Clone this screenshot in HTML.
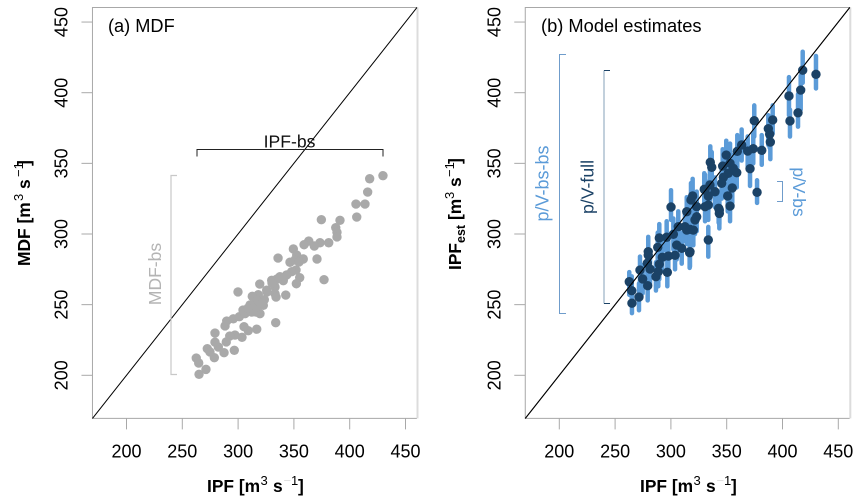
<!DOCTYPE html>
<html lang="en">
<head>
<meta charset="utf-8">
<title>MDF and model estimates versus IPF</title>
<style>
html,body{margin:0;padding:0;background:#fff;width:861px;height:504px;overflow:hidden}
svg{display:block;font-family:"Liberation Sans",sans-serif}
</style>
</head>
<body>
<svg id="chart" width="861" height="504" viewBox="0 0 861 504" xmlns="http://www.w3.org/2000/svg"></svg>
<script>
const tickValues = [200, 250, 300, 350, 400, 450];
const axisLimits = [169.5, 460.3];

const mdfIpf = [429.8,417.9,416.1,405.6,413.7,406.3,374.6,391.3,387.5,388.6,388.6,381.2,373.4,368.3,363.3,359.1,349.5,352.5,358.4,370.7,335.8,346.5,351,354.6,351.9,348,343.5,337.5,340.5,334.9,330.1,355.2,352.2,377,319.4,299.9,342.7,333.7,316.7,309.1,305.3,303.5,297.2,292.5,289.4,296.6,287.4,282.3,279.3,279.3,278.7,272.4,274.8,262.5,264.7,271.2,265,288.3,289.8,295.7,301.1,306.2,309.1,312.2,316,319.6,316.7,322.6,323.5,318.1,312.7,316.7,325.6,333.1,333.1,334,321.4,310.7,304.4,308.9,325.9,330.4];
const mdfValues = [341.3,339.1,329.7,321.2,321.2,312,310.1,309.7,304.5,301.2,297.9,293.8,293.8,291.5,295,292.4,289.4,285.1,282.3,282.3,283,280,281.6,280.2,274.5,273.3,271,269.8,267,268.2,267.2,269.1,264.8,267.7,264.6,259,256.8,237.2,232.6,231.6,234.4,226.9,228.5,227.8,223.6,217.7,216,220,223.4,229.9,212.5,218.8,216.5,212.2,208.7,204.2,200.7,234.9,238.4,240,241.5,243.6,246,244.8,244.8,243.6,248.3,249.5,253.5,257,255.9,253,260.2,262.5,257.7,255.4,251,249.8,246.2,247.6,259,265.3];

const estIpf = [430,418.1,416.3,405.8,413.9,406.7,391.2,374.7,387.3,388.5,389.1,381.4,373.8,368.8,363.4,359.5,349.6,335.3,336.6,346.4,353,359,370.9,377.2,355,350.9,353,342.8,355.9,351.4,347,345.5,339.5,329.9,335,333.5,319.5,318,300.1,323.1,333.5,314.2,323.1,321.6,343.4,343.4,333.5,330.6,289.6,296.2,302.2,306.6,312.6,320.1,314.2,305.2,309.7,317.1,288.2,279.7,262.7,264.9,271.4,265.1,279.2,274.7,272.3,278.9,279.7,281.3,289.6,286.6,288.7,296.8,292.3,297.7,303.7,316.8,317.1,330.6];
const estValues = [413,415.9,401.9,397.7,385.8,380,380.7,380.2,374.5,370.6,365.1,359.2,360.4,358.7,363,358.5,355.9,350.7,347.2,348.1,350,343.4,346.2,329.5,332.6,326.9,319.8,318.2,346.5,343,340.1,335.9,329.9,331.6,334.7,326.9,326.9,324.1,319.1,319.3,320.5,315.8,312.2,310,317,314.6,295.8,319.3,297.2,297.7,299.8,305.2,305.2,302.8,302.8,292.2,289.9,287.5,290.6,287.5,266.2,259.9,255.4,251,263.4,268.2,274.5,279.3,285.1,275.2,278.6,269.8,273.3,272.9,283.5,284.4,284.9,286.8,303.3,331.1];
const estLow = [403,407,388,384,376,369,371,369,363,361,353,349,350,348,352,347,346,339,337,338,340,333,334,322,322,316,309,308,336,332,330,325,319,321,324,316,317,314,310,309,310,306,302,300,307,304,284,309,287,288,289,294,295,292,293,282,279,277,280,277,257,249,246,244,253,258,264,269,275,265,268,260,263,263,274,274,275,276,293,321];
const estHigh = [426,429,412,411,399,388,391,391,384,380,376,370,371,369,374,370,366,362,358,360,364,355,358,338,344,337,330,330,356,354,351,347,340,343,346,337,339,336,331,330,333,326,323,320,328,325,305,331,307,309,311,316,316,314,314,303,301,298,301,298,273,270,265,262,273,278,284,289,296,286,289,280,284,283,295,295,295,297,314,342];

const NS = 'http://www.w3.org/2000/svg';
const chart = document.getElementById('chart');
const xLeft = v => 126.5 + (v - 200) * 1.116;
const xRight = v => 559.3 + (v - 200) * 1.116;
const yScale = v => 375.3 - (v - 200) * 1.413;

function mk(parent, tag, attrs, text) {
  const el = document.createElementNS(NS, tag);
  for (const k in attrs) el.setAttribute(k, attrs[k]);
  if (text !== undefined) el.textContent = text;
  parent.appendChild(el);
  return el;
}

function drawAxes(panel, xs) {
  const x0 = xs(axisLimits[0]), x1 = xs(axisLimits[1]);
  const y0 = yScale(axisLimits[0]), y1 = yScale(axisLimits[1]);
  const frame = mk(panel, 'path', {d: `M${x1} ${y1}H${x0}V${y0}H${x1}`, fill: 'none', stroke: '#a8a8a8', 'stroke-width': 1});
  
  
  const edge = mk(panel, 'line', {x1: x1 + 0.5, x2: x1 + 0.5, y1: y1, y2: y0, stroke: '#dcdcdc', 'stroke-width': 2});
  
  
  tickValues.forEach(t => {
    const xt = mk(panel, 'line', {x1: xs(t), x2: xs(t), y1: y0, y2: y0 + 11, stroke: '#a8a8a8', 'stroke-width': 1});
    
    
    const xl = mk(panel, 'text', {x: xs(t), y: 457.5, 'text-anchor': 'middle', 'font-size': 18, fill: '#000'}, String(t));
    
    
    const yt = mk(panel, 'line', {x1: x0 - 11, x2: x0, y1: yScale(t), y2: yScale(t), stroke: '#a8a8a8', 'stroke-width': 1});
    
    
    const yl = mk(panel, 'text', {transform: `translate(${x0 - 25},${yScale(t)}) rotate(-90)`, 'text-anchor': 'middle', 'font-size': 18, fill: '#000'}, String(t));
    
    
  });
  const ref = mk(panel, 'line', {x1: x0, y1: y0, x2: x1, y2: y1, stroke: '#000', 'stroke-width': 1});
  
  
}

function xTitle(panel, left) {
  const g = mk(panel, 'text', {y: 492, 'font-size': 17.4, 'font-weight': 'bold', fill: '#000'});
  
  
  mk(g, 'tspan', {x: left}, 'IPF [m');
  mk(g, 'tspan', {x: left + 53.5, y: 485, 'font-size': 13, 'font-weight': 'normal'}, '3');
  mk(g, 'tspan', {x: left + 66, y: 492}, 's');
  mk(g, 'tspan', {x: left + 76.5, y: 485, 'font-size': 13, 'font-weight': 'normal', fill: '#dddddd'}, '\u2212');
  mk(g, 'tspan', {x: left + 84, y: 485, 'font-size': 13, 'font-weight': 'normal'}, '1');
  mk(g, 'tspan', {x: left + 91, y: 492}, ']');
}

const panelA = mk(chart, 'g', {});


drawAxes(panelA, xLeft);
mdfIpf.forEach((v, i) => {
  const c = mk(panelA, 'circle', {cx: xLeft(v), cy: yScale(mdfValues[i]), r: 4.7, fill: '#a9a9a9'});
  
  
});

const panelB = mk(chart, 'g', {});


drawAxes(panelB, xRight);
estIpf.forEach((v, i) => {
  const b = mk(panelB, 'line', {x1: xRight(v), x2: xRight(v), y1: yScale(estLow[i]), y2: yScale(estHigh[i]), stroke: '#5b9bd8', 'stroke-width': 4.5, 'stroke-linecap': 'round'});
  
  
});
estIpf.forEach((v, i) => {
  const c = mk(panelB, 'circle', {cx: xRight(v), cy: yScale(estValues[i]), r: 4.7, fill: '#1b4266'});
  
  
});
const diagTop = mk(panelB, 'line', {x1: xRight(axisLimits[0]), y1: yScale(axisLimits[0]), x2: xRight(axisLimits[1]), y2: yScale(axisLimits[1]), stroke: '#000', 'stroke-width': 1});



xTitle(panelA, 207);
xTitle(panelB, 640);

const yTitleA = mk(panelA, 'text', {transform: 'translate(30,266) rotate(-90)', 'font-size': 17.4, 'font-weight': 'bold', fill: '#000'});


mk(yTitleA, 'tspan', {x: 0, y: 0}, 'MDF [m');
mk(yTitleA, 'tspan', {x: 65, y: -7, 'font-size': 13, 'font-weight': 'normal'}, '3');
mk(yTitleA, 'tspan', {x: 77, y: 0}, 's');
mk(yTitleA, 'tspan', {x: 89, y: -7, 'font-size': 13, 'font-weight': 'normal'}, '\u22121');
mk(yTitleA, 'tspan', {x: 100, y: 0}, ']');

const yTitleB = mk(panelB, 'text', {transform: 'translate(461,270) rotate(-90)', 'font-size': 17.4, 'font-weight': 'bold', fill: '#000'});


mk(yTitleB, 'tspan', {x: 0, y: 0}, 'IPF');
mk(yTitleB, 'tspan', {x: 27, y: 4, 'font-size': 12.5}, 'est');
mk(yTitleB, 'tspan', {x: 50, y: 0}, '[m');
mk(yTitleB, 'tspan', {x: 71, y: -7, 'font-size': 13, 'font-weight': 'normal'}, '3');
mk(yTitleB, 'tspan', {x: 83, y: 0}, 's');
mk(yTitleB, 'tspan', {x: 93, y: -7, 'font-size': 13, 'font-weight': 'normal'}, '\u22121');
mk(yTitleB, 'tspan', {x: 106, y: 0}, ']');

const titleA = mk(panelA, 'text', {x: 108, y: 32, 'font-size': 18.2, fill: '#000'}, '(a) MDF');


const titleB = mk(panelB, 'text', {x: 541, y: 32, 'font-size': 18.3, fill: '#000'}, '(b) Model estimates');



const ipfBracket = mk(panelA, 'path', {d: 'M197 156.5V149.5H383V156.5', fill: 'none', stroke: '#222', 'stroke-width': 1});


const ipfLabel = mk(panelA, 'text', {x: 289.5, y: 147.5, 'text-anchor': 'middle', 'font-size': 17.6, fill: '#111'}, 'IPF-bs');


const mdfBracket = mk(panelA, 'path', {d: 'M177 175.5H171V374.5H177', fill: 'none', stroke: '#c8c8c8', 'stroke-width': 1.2});


const mdfLabel = mk(panelA, 'text', {transform: 'translate(161,274) rotate(-90)', 'text-anchor': 'middle', 'font-size': 17.5, fill: '#b4b4b4'}, 'MDF-bs');



const pvBsBsBracket = mk(panelB, 'path', {d: 'M566 54.5H559.5V313.5H566', fill: 'none', stroke: '#6f9ccb', 'stroke-width': 1});


const pvBsBsLabel = mk(panelB, 'text', {transform: 'translate(548.5,183.5) rotate(-90)', 'text-anchor': 'middle', 'font-size': 18, fill: '#5b9bd8'}, 'p/V-bs-bs');


const pvFullLine = mk(panelB, 'line', {x1: 604, x2: 604, y1: 70.5, y2: 303.5, stroke: '#a9bccd', 'stroke-width': 1.4});


const pvFullTicks = mk(panelB, 'path', {d: 'M604 70.5H610M604 303.5H610', fill: 'none', stroke: '#1b4266', 'stroke-width': 1});


const pvFullLabel = mk(panelB, 'text', {transform: 'translate(593.5,187) rotate(-90)', 'text-anchor': 'middle', 'font-size': 17.7, fill: '#1b4266'}, 'p/V-full');


const pvBsBracket = mk(panelB, 'path', {d: 'M777 181.5H782.5V201.5H777', fill: 'none', stroke: '#6f9ccb', 'stroke-width': 1});


const pvBsLabel = mk(panelB, 'text', {transform: 'translate(793,192) rotate(90)', 'text-anchor': 'middle', 'font-size': 17.4, fill: '#5b9bd8'}, 'p/V-bs');


</script>
</body>
</html>
